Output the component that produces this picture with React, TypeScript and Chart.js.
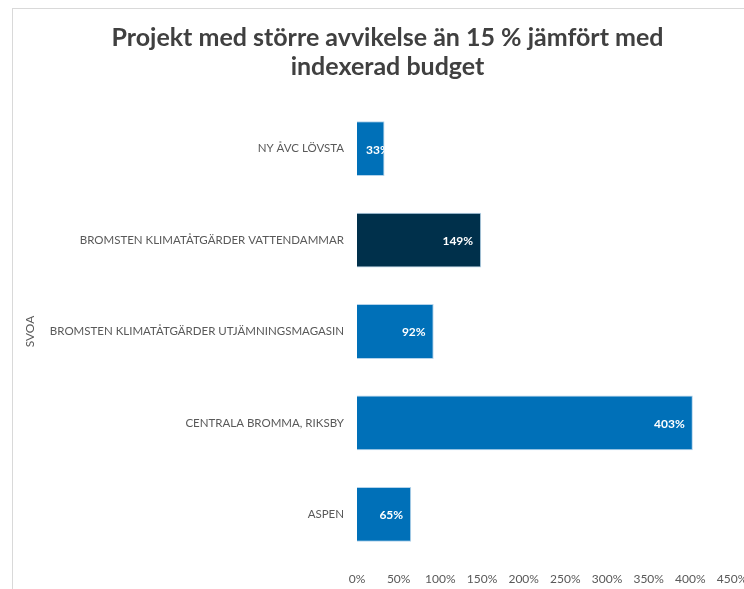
import React, { useEffect, useRef } from "react";
import { Chart, registerables } from "chart.js";

Chart.register(...registerables);

const titleLines = ["Projekt med större avvikelse än 15 % jämfört med", "indexerad budget"];
const categories = [
  "NY ÅVC LÖVSTA",
  "BROMSTEN KLIMATÅTGÄRDER VATTENDAMMAR",
  "BROMSTEN KLIMATÅTGÄRDER UTJÄMNINGSMAGASIN",
  "CENTRALA BROMMA, RIKSBY",
  "ASPEN",
];
const values = [33, 149, 92, 403, 65];
const barColors = ["#0070B8", "#00304B", "#0070B8", "#0070B8", "#0070B8"];
const axisTitle = "SVOA";
const xMin = 0;
const xMax = 450;
const xStep = 50;

const FONT = "Lato, 'Open Sans', sans-serif";

const framePlugin = {
  id: "frame",
  beforeDraw(chart: any) {
    const ctx = chart.ctx;
    ctx.save();
    ctx.fillStyle = "#ffffff";
    ctx.fillRect(0, 0, chart.width, chart.height);
    ctx.strokeStyle = "#d9d9d9";
    ctx.lineWidth = 1;
    ctx.strokeRect(12.5, 8.5, chart.width, chart.height);
    ctx.restore();
  },
};

const labelPlugin = {
  id: "barLabels",
  afterDatasetsDraw(chart: any) {
    const ctx = chart.ctx;
    const meta = chart.getDatasetMeta(0);
    ctx.save();
    ctx.font = `bold 12px ${FONT}`;
    ctx.fillStyle = "#ffffff";
    ctx.textBaseline = "middle";
    ctx.textAlign = "left";
    meta.data.forEach((bar: any, i: number) => {
      const { x, y, base, height } = bar.getProps(["x", "y", "base", "height"], true);
      const text = `${values[i]}%`;
      const tw = ctx.measureText(text).width;
      const tx = Math.max(x - 8 - tw, base + 9);
      ctx.save();
      ctx.beginPath();
      ctx.rect(base, y - height / 2, x - base, height);
      ctx.clip();
      ctx.fillText(text, tx, y + 1);
      ctx.restore();
    });
    ctx.restore();
  },
};

export default function App() {
  const ref = useRef<HTMLCanvasElement>(null);
  useEffect(() => {
    if (!ref.current) return;
    const chart = new Chart(ref.current, {
      type: "bar",
      data: {
        labels: categories,
        datasets: [
          {
            data: values,
            backgroundColor: barColors,
            borderColor: "rgba(160,200,230,0.8)",
            borderWidth: 1,
            barPercentage: 0.6,
            categoryPercentage: 1,
          },
        ],
      },
      options: {
        indexAxis: "y",
        animation: false,
        responsive: false,
        layout: { padding: { left: 13, top: 8, right: 13, bottom: 0 } },
        plugins: {
          legend: { display: false },
          tooltip: { enabled: false },
          title: {
            display: true,
            text: titleLines,
            color: "#404040",
            font: { family: FONT, size: 25, weight: "bold", lineHeight: 29 / 25 },
            padding: { top: 15, bottom: 22 },
          },
        },
        scales: {
          x: {
            min: xMin,
            max: xMax,
            grid: { display: false, drawTicks: false },
            border: { display: false },
            ticks: {
              stepSize: xStep,
              color: "#595959",
              padding: 12,
              font: { family: FONT, size: 12 },
              callback: (v: any) => `${v}%`,
            },
            afterFit(scale: any) {
              scale.height = 40;
              scale.paddingRight = 43;
            },
          },
          y: {
            grid: { display: false, drawTicks: false },
            border: { display: false },
            ticks: {
              color: "#595959",
              padding: 13,
              font: { family: FONT, size: 11.5 },
            },
            title: {
              display: true,
              text: axisTitle,
              color: "#595959",
              font: { family: FONT, size: 12 },
              padding: { top: 10, bottom: 0 },
            },
            afterFit(scale: any) {
              scale.width = 344;
            },
          },
        },
      },
      plugins: [framePlugin, labelPlugin],
    });
    return () => chart.destroy();
  }, []);
  return (
    <div style={{ position: "absolute", left: 0, top: 0, width: 744, height: 589, overflow: "hidden", background: "#fff" }}>
      <canvas ref={ref} width={775} height={600} style={{ display: "block" }} />
    </div>
  );
}
